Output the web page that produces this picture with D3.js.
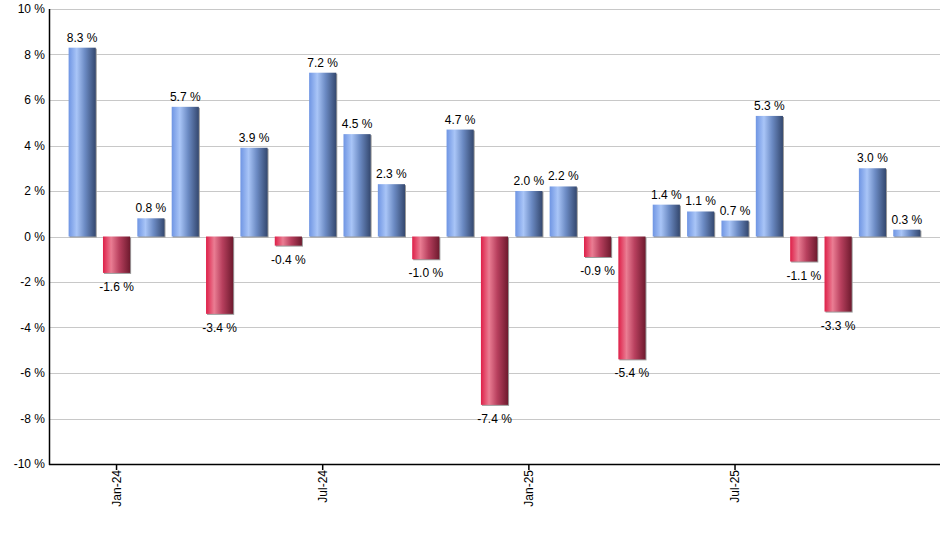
<!DOCTYPE html>
<html><head><meta charset="utf-8">
<script src="https://cdn.jsdelivr.net/npm/d3@7"></script>
<style>body{margin:0;background:#fff}svg{display:block}text{font-family:"Liberation Sans",Arial,sans-serif}</style>
</head><body>
<svg id="c" width="940" height="550"></svg>
<script>
const months = ["Dec-23","Jan-24","Feb-24","Mar-24","Apr-24","May-24","Jun-24","Jul-24","Aug-24","Sep-24","Oct-24","Nov-24","Dec-24","Jan-25","Feb-25","Mar-25","Apr-25","May-25","Jun-25","Jul-25","Aug-25","Sep-25","Oct-25","Nov-25","Dec-25"];
const values = [8.3,-1.6,0.8,5.7,-3.4,3.9,-0.4,7.2,4.5,2.3,-1.0,4.7,-7.4,2.0,2.2,-0.9,-5.4,1.4,1.1,0.7,5.3,-1.1,-3.3,3.0,0.3];
const xTickLabels = ["Jan-24","Jul-24","Jan-25","Jul-25"];
const yTicks = [-10,-8,-6,-4,-2,0,2,4,6,8,10];

const svg = d3.select("#c");
const L = 49, R = 940, T = 9, B = 464;
const x = d3.scaleBand().domain(months).range([65, 924]).paddingInner(0.21).paddingOuter(0.105);
const y = d3.scaleLinear().domain([-10, 10]).range([B, T]);

const defs = svg.append("defs");
function grad(id, stops){
  const g = defs.append("linearGradient").attr("id", id).attr("x1","0").attr("x2","1").attr("y1","0").attr("y2","0");
  stops.forEach(s => g.append("stop").attr("offset", s[0]).attr("stop-color", s[1]));
}
grad("gpos", [[0,"#6f95e3"],[0.3,"#a9c5f7"],[0.6,"#6c8bc4"],[1,"#34486f"]]);
grad("gneg", [[0,"#de1f48"],[0.3,"#ea7d93"],[0.6,"#b8405e"],[1,"#6e1a2e"]]);

// grid
svg.append("g").selectAll("line").data(yTicks).join("line")
  .attr("x1", L).attr("x2", R).attr("y1", d => Math.round(y(d))+0.5).attr("y2", d => Math.round(y(d))+0.5)
  .attr("stroke", "#c8c8c8").attr("stroke-width", 1);

// y axis labels
const yAxis = d3.axisLeft(y).tickValues(yTicks).tickSize(0).tickPadding(4).tickFormat(d => d + " %");
const ya = svg.append("g").attr("transform", `translate(${L},0)`).call(yAxis);
ya.select(".domain").remove();
ya.selectAll("text").attr("font-size", 12).attr("fill", "#000").attr("font-family", '"Liberation Sans",Arial,sans-serif');

// bars
const bw = x.bandwidth();
const bars = svg.append("g");
months.forEach((m, i) => {
  const v = values[i];
  const y0 = y(0), y1 = y(v);
  const top = Math.min(y0, y1), h = Math.abs(y1 - y0);
  bars.append("rect").attr("x", x(m)+1).attr("y", top+1).attr("width", bw).attr("height", h).attr("fill", "#9a9a9a");
  bars.append("rect").attr("x", x(m)).attr("y", top).attr("width", bw).attr("height", h)
    .attr("fill", v >= 0 ? "url(#gpos)" : "url(#gneg)");
  bars.append("text").attr("x", x(m) + bw/2).attr("y", v >= 0 ? y1 - 6 : y1 + 18)
    .attr("text-anchor", "middle").attr("font-size", 12).attr("fill", "#000")
    .text(v.toFixed(1) + " %");
});

// axes lines
svg.append("line").attr("x1", L+0.5).attr("x2", L+0.5).attr("y1", T).attr("y2", B+1).attr("stroke", "#000").attr("stroke-width", 1.5);
const xa = d3.axisBottom(x).tickValues(xTickLabels.map(l => months[months.indexOf(l)])).tickSize(6).tickPadding(4);
const xg = svg.append("g").attr("transform", `translate(0,${B})`).call(xa);
xg.select(".domain").remove();
svg.append("line").attr("x1", L).attr("x2", R).attr("y1", B+0.5).attr("y2", B+0.5).attr("stroke", "#000").attr("stroke-width", 1.5);
xg.selectAll(".tick line").attr("stroke", "#000").attr("stroke-width", 1.5);
xg.selectAll("text").attr("font-size", 12).attr("fill", "#000").attr("font-family", '"Liberation Sans",Arial,sans-serif')
  .attr("transform", "rotate(-90)").attr("text-anchor", "end").attr("dy", "0.35em").attr("x", -6).attr("y", 0);
</script>
</body></html>
